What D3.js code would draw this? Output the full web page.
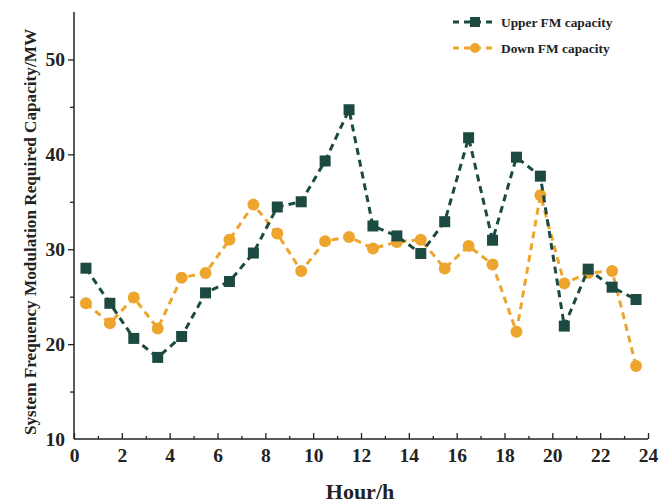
<!DOCTYPE html>
<html><head><meta charset="utf-8">
<script src="https://cdn.jsdelivr.net/npm/d3@7"></script>
<style>body{margin:0;background:#fff}svg{display:block}</style>
</head><body>
<script>
const hours = [0.5,1.5,2.5,3.5,4.5,5.5,6.5,7.5,8.5,9.5,10.5,11.5,12.5,13.5,14.5,15.5,16.5,17.5,18.5,19.5,20.5,21.5,22.5,23.5];
const upperFM = [28.0,24.3,20.6,18.6,20.8,25.4,26.6,29.6,34.45,35.0,39.3,44.7,32.45,31.4,29.55,32.9,41.75,30.95,39.7,37.7,21.9,27.9,26.0,24.7];
const downFM = [24.3,22.2,24.9,21.65,27.0,27.5,31.0,34.7,31.65,27.7,30.85,31.3,30.07,30.77,31.0,27.97,30.35,28.4,21.3,35.7,26.4,27.5,27.7,17.7];
const seriesNames = ["Upper FM capacity","Down FM capacity"];
const xTicks = [0,2,4,6,8,10,12,14,16,18,20,22,24];
const yTicks = [10,20,30,40,50];

const W=660,H=504;
const svg=d3.select("body").append("svg").attr("width",W).attr("height",H);
const x=d3.scaleLinear().domain([0,24]).range([74,648]);
const y=d3.scaleLinear().domain([10,55]).range([439,12]);
const font="'Liberation Serif','Times New Roman',serif";
const green="#1c4a40", orange="#eda52e";

// axes
const xAxis=svg.append("g").attr("transform","translate(0,439)")
  .call(d3.axisBottom(x).tickValues(d3.range(0,25,1)).tickSize(-6).tickFormat(d=>xTicks.includes(d)?d:""));
xAxis.selectAll(".tick line").attr("y2",d=>d%2===0?-6:-3);
const yAxis=svg.append("g").attr("transform","translate(74,0)")
  .call(d3.axisLeft(y).tickValues([10,15,20,25,30,35,40,45,50]).tickSize(6).tickFormat(d=>yTicks.includes(d)?d:""));
yAxis.selectAll(".tick line").attr("x2",d=>d%10===0?-6:-4);
[xAxis,yAxis].forEach(g=>{
  g.select(".domain").attr("stroke","#222").attr("stroke-width",1.5);
  g.selectAll(".tick line").attr("stroke","#222").attr("stroke-width",1.3);
  g.selectAll("text").attr("font-family",font).attr("font-weight","bold").attr("font-size",19.5).attr("fill","#222");
});
xAxis.selectAll("text").attr("dy","1.05em");
yAxis.selectAll("text").attr("x",-9);
yAxis.select(".tick:first-of-type line").remove();
yAxis.select(".domain").attr("d","M0,439V12");
xAxis.select(".domain").attr("d","M74,0H648");

// titles
svg.append("text").attr("x",360).attr("y",499).attr("text-anchor","middle")
  .attr("font-family",font).attr("font-weight","bold").attr("font-size",22).attr("fill","#222").text("Hour/h");
svg.append("text").attr("transform","translate(36,232) rotate(-90)").attr("text-anchor","middle")
  .attr("font-family",font).attr("font-weight","bold").attr("font-size",17.2).attr("fill","#222")
  .text("System Frequency Modulation Required Capacity/MW");

// lines
const line=d3.line().x((d,i)=>x(hours[i])).y(d=>y(d));
function drawSeries(vals,color,shape){
  svg.append("path").datum(vals).attr("d",line).attr("fill","none")
    .attr("stroke",color).attr("stroke-width",3).attr("stroke-dasharray","7,5");
  if(shape==="square"){
    svg.selectAll(null).data(vals).enter().append("rect")
      .attr("x",(d,i)=>x(hours[i])-5.5).attr("y",d=>y(d)-5.5).attr("width",11).attr("height",11).attr("fill",color);
  } else {
    svg.selectAll(null).data(vals).enter().append("circle")
      .attr("cx",(d,i)=>x(hours[i])).attr("cy",d=>y(d)).attr("r",6).attr("fill",color);
  }
}
drawSeries(downFM,orange,"circle");
drawSeries(upperFM,green,"square");

// legend
const leg=[{n:seriesNames[0],c:green,s:"square",yy:22},{n:seriesNames[1],c:orange,s:"circle",yy:48}];
leg.forEach(l=>{
  svg.append("line").attr("x1",453).attr("x2",497).attr("y1",l.yy).attr("y2",l.yy)
    .attr("stroke",l.c).attr("stroke-width",3).attr("stroke-dasharray","6,5");
  if(l.s==="square") svg.append("rect").attr("x",470).attr("y",l.yy-5).attr("width",10).attr("height",10).attr("fill",l.c);
  else svg.append("circle").attr("cx",475).attr("cy",l.yy).attr("r",5).attr("fill",l.c);
  svg.append("text").attr("x",501).attr("y",l.yy+4.5).attr("font-family",font).attr("font-weight","bold")
    .attr("font-size",13.4).attr("fill","#222").text(l.n);
});
</script>
</body></html>
